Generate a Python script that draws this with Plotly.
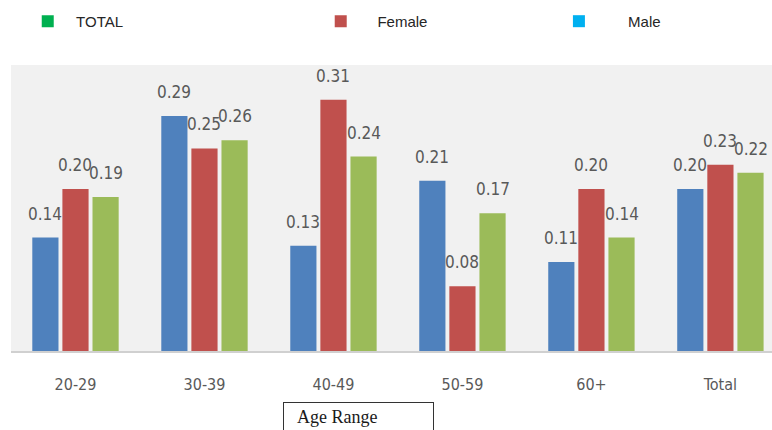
import plotly.graph_objects as go

# Age groups on the x axis
age_ranges = ["20-29", "30-39", "40-49", "50-59", "60+", "Total"]

# Share per age group for each series
male = [0.14, 0.29, 0.13, 0.21, 0.11, 0.20]
female = [0.20, 0.25, 0.31, 0.08, 0.20, 0.23]
total = [0.19, 0.26, 0.24, 0.17, 0.14, 0.22]

# Legend entries shown across the top
legend_names = ["TOTAL", "Female", "Male"]
legend_colors = ["#00B050", "#C0504D", "#00B0F0"]

series = [
    ("Male", male, "#4F81BD"),
    ("Female", female, "#C0504D"),
    ("TOTAL", total, "#9BBB59"),
]

BARGAP = 0.30
SLOT = (1 - BARGAP) / len(series)
NARROW = "DejaVu Sans Condensed, Liberation Sans Narrow, Roboto, sans-serif"
LABEL_FONT = dict(family=NARROW, size=17, color="#595959")

fig = go.Figure()

for name, values, color in series:
    fig.add_trace(go.Bar(
        x=age_ranges, y=values, name=name,
        marker=dict(color=color, line=dict(width=0)),
        showlegend=False,
    ))

# Value labels above each bar
annotations = []
for k, (name, values, color) in enumerate(series):
    offset = (k - (len(series) - 1) / 2) * SLOT
    for i, v in enumerate(values):
        annotations.append(dict(
            x=i + offset, y=v, xref="x", yref="y",
            text=f"{v:.2f}", showarrow=False,
            yanchor="bottom", xanchor="center", yshift=12,
            font=LABEL_FONT,
        ))

# Boxed axis caption
annotations.append(dict(
    x=0.358, y=-0.178, xref="paper", yref="paper",
    xanchor="left", yanchor="top", align="left",
    text="&nbsp;&nbsp;Age Range", showarrow=False,
    width=141, borderpad=4, bordercolor="#333333", borderwidth=1,
    font=dict(family="Liberation Serif, Times New Roman, serif", size=18, color="#1a1a1a"),
))

# Top legend: one entry per legend box so each can be placed freely
legend_x = [0.022, 0.407, 0.72]
legend_pad = ["&nbsp;&nbsp;", "&nbsp;&nbsp;&nbsp;&nbsp;", "&nbsp;&nbsp;&nbsp;&nbsp;&nbsp;&nbsp;&nbsp;"]
legend_layout = {}
for j, (lname, lcolor) in enumerate(zip(legend_names, legend_colors)):
    key = "legend" if j == 0 else f"legend{j + 1}"
    fig.add_trace(go.Scatter(
        x=[None], y=[None], mode="markers", name=legend_pad[j] + lname,
        marker=dict(symbol="square", size=12, color=lcolor),
        legend=key, showlegend=True,
    ))
    legend_layout[key] = dict(
        x=legend_x[j], y=1.21, xanchor="left", yanchor="top",
        bgcolor="rgba(0,0,0,0)", borderwidth=0,
        font=dict(family="Liberation Sans, Arial, sans-serif", size=15, color="#262626"),
    )

fig.update_layout(
    width=772, height=430,
    margin=dict(l=11, r=0, t=65, b=79),
    paper_bgcolor="white",
    plot_bgcolor="#f1f1f1",
    barmode="group",
    bargap=BARGAP,
    bargroupgap=0.13,
    annotations=annotations,
    **legend_layout,
)

fig.update_xaxes(
    type="category", range=[-0.5, 5.4],
    showline=True, linecolor="#d0d0d0", linewidth=2,
    showgrid=False, ticks="", ticklabelstandoff=18,
    tickfont=dict(family=NARROW, size=16, color="#595959"),
)
fig.update_yaxes(
    range=[0, 0.353], showgrid=False, zeroline=False,
    showticklabels=False, ticks="",
)

fig.write_html("out.html")
